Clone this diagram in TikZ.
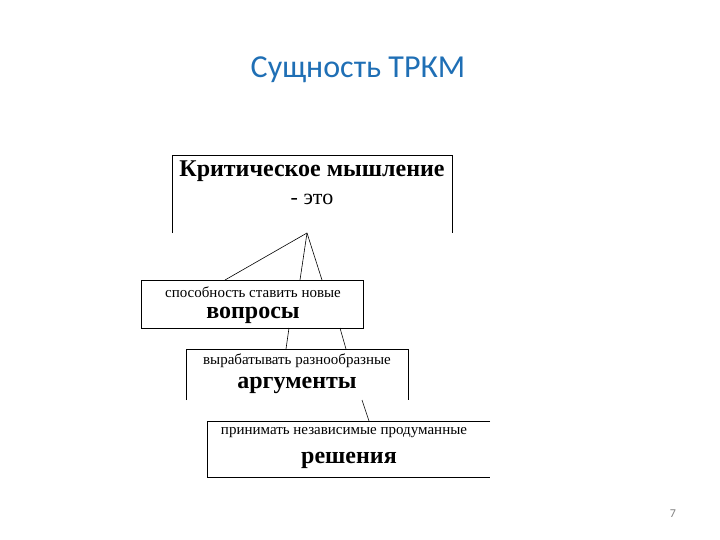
\documentclass[tikz,border=0pt]{standalone}
\usepackage{fontspec}
\setmainfont{Liberation Serif}
\newfontfamily\titlefont{Carlito}
\definecolor{ttl}{HTML}{1F6FB5}
\begin{document}
\begin{tikzpicture}[x=1pt,y=-1pt,
  ln/.style={line width=0.6pt,black},
  small/.style={inner sep=0pt,font=\fontsize{15}{17}\selectfont},
  big/.style={inner sep=0pt,font=\fontsize{24}{28}\selectfont\bfseries}]
\useasboundingbox (0,0) rectangle (720,540);
\node[font=\titlefont\fontsize{32}{36}\selectfont,text=ttl] (title) at (358,70) {Сущность ТРКМ};
\node[font=\titlefont\fontsize{12}{14}\selectfont,text=gray] (pg) at (673,514) {7};
% box 1
\draw[ln] (172,233) -- (172,155) -- (452,155) -- (452,233);
\node[big] (t1) at (312,171) {Критическое мышление};
\node[inner sep=0pt,font=\fontsize{22}{26}\selectfont] (t1b) at (312,199) {- это};
% box 2
\draw[ln] (141,280) rectangle (363,328);
\node[small] (t2) at (253,292) {способность ставить новые};
\node[big] (t2b) at (253,315) {вопросы};
% box 3
\draw[ln] (186,400) -- (186,349) -- (408,349) -- (408,400);
\node[small] (t3) at (297,361) {вырабатывать разнообразные};
\node[big] (t3b) at (297,385) {аргументы};
% box 4
\draw[ln] (490,421) -- (207,421) -- (207,477) -- (490,477);
\node[small] (t4) at (344,433) {принимать независимые продуманные};
\node[big] (t4b) at (349,460) {решения};
% connectors
\coordinate (apex) at (307,233);
\coordinate (a1) at (225,280); \coordinate (a2) at (300,280); \coordinate (a3) at (322,280);
\draw[ln] (apex) -- (a1); \draw[ln] (apex) -- (a2); \draw[ln] (apex) -- (a3);
\coordinate (b1) at (289,328); \coordinate (b1e) at (286,349);
\coordinate (b2) at (340,328); \coordinate (b2e) at (346,349);
\draw[ln] (b1) -- (b1e); \draw[ln] (b2) -- (b2e);
\coordinate (c1) at (362,400); \coordinate (c1e) at (369,421);
\draw[ln] (c1) -- (c1e);
\end{tikzpicture}
\end{document}
